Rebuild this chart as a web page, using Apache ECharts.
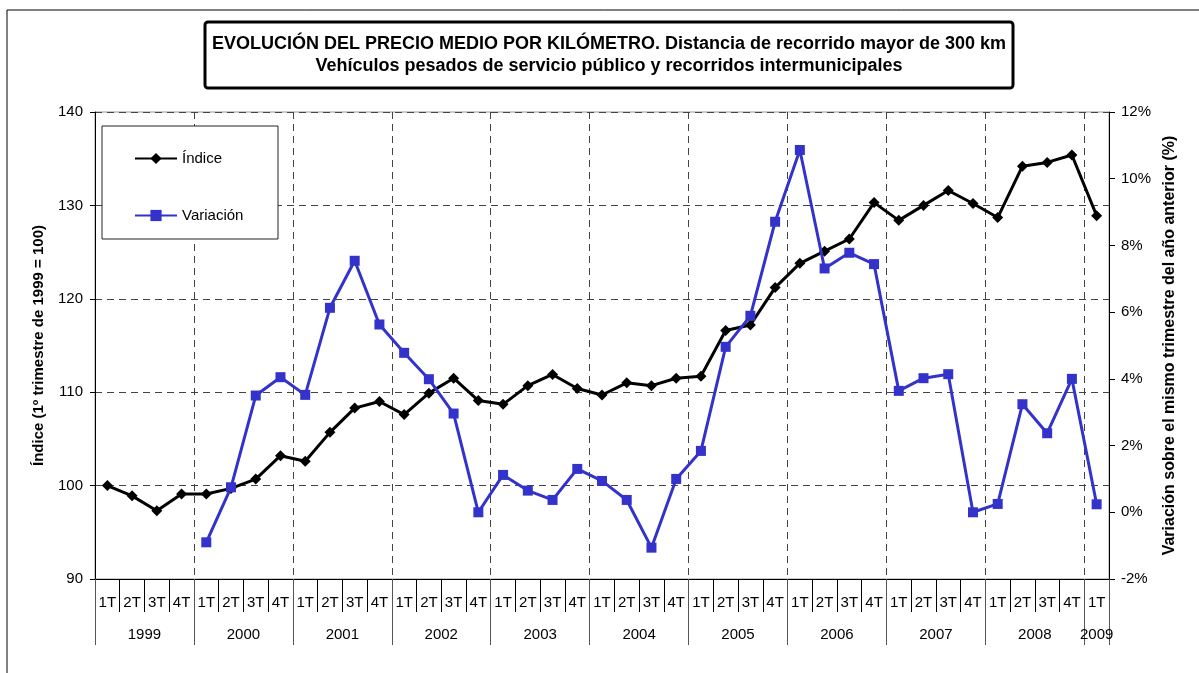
<!DOCTYPE html>
<html>
<head>
<meta charset="utf-8">
<script src="https://cdn.jsdelivr.net/npm/echarts@6/dist/echarts.min.js"></script>
<style>
html,body{margin:0;padding:0;background:#fff;}
#c{width:1199px;height:673px;}
</style>
</head>
<body>
<div id="c"></div>
<script>
// ---- data ----
var quarters = ['1T','2T','3T','4T','1T','2T','3T','4T','1T','2T','3T','4T','1T','2T','3T','4T',
  '1T','2T','3T','4T','1T','2T','3T','4T','1T','2T','3T','4T','1T','2T','3T','4T',
  '1T','2T','3T','4T','1T','2T','3T','4T','1T'];
var years = ['1999','2000','2001','2002','2003','2004','2005','2006','2007','2008','2009'];
var indice = [100.0, 98.9, 97.3, 99.1, 99.1, 99.7, 100.7, 103.2, 102.6, 105.7, 108.3, 109.0, 107.6, 109.9,
  111.5, 109.1, 108.7, 110.7, 111.9, 110.4, 109.7, 111.0, 110.7, 111.5, 111.7, 116.6, 117.2, 121.2,
  123.8, 125.1, 126.4, 130.3, 128.4, 130.0, 131.6, 130.2, 128.7, 134.2, 134.6, 135.4, 128.9];
var variacion = [null, null, null, null, -0.9, 0.75, 3.5, 4.05, 3.52, 6.13, 7.54, 5.63, 4.78, 3.99,
  2.96, 0.0, 1.12, 0.65, 0.37, 1.3, 0.94, 0.37, -1.06, 1.0, 1.84, 4.96, 5.89, 8.71,
  10.86, 7.31, 7.78, 7.44, 3.64, 4.02, 4.14, 0.0, 0.25, 3.24, 2.37, 4.0, 0.24];
var leftTicks = {min: 90, max: 140, interval: 10};
var rightTicks = {min: -2, max: 12, interval: 2};
var titleLines = ['EVOLUCIÓN DEL PRECIO MEDIO POR KILÓMETRO. Distancia de recorrido mayor de 300 km',
  'Vehículos pesados de servicio público y recorridos intermunicipales'];
var seriesNames = ['Índice', 'Variación'];
var leftName = 'Índice (1º trimestre de 1999 = 100)';
var rightName = 'Variación sobre el mismo trimestre del año anterior (%)';

// year-level tick positions (category boundaries) and label centres
var yearTickPos = [], yearLabelPos = [];
for (var i = 0; i < years.length; i++) {
  var start = i * 4, end = Math.min(start + 4, quarters.length);
  yearTickPos.push(start);
  yearLabelPos.push((start + end) / 2);
}
yearTickPos.push(quarters.length);

var FONT = '"Liberation Sans", Arial, sans-serif';
var chart = echarts.init(document.getElementById('c'), null, {renderer: 'canvas'});
var dash = [7, 5];

var option = {
  backgroundColor: '#fff',
  animation: false,
  textStyle: {fontFamily: FONT, color: '#000'},
  grid: {left: 95, right: 90, top: 112, bottom: 94, show: true, borderColor: '#999', borderWidth: 1, backgroundColor: 'transparent'},
  legend: {
    data: seriesNames,
    orient: 'vertical',
    left: 129, top: 146,
    itemWidth: 42, itemHeight: 14, itemGap: 42,
    textStyle: {fontSize: 15, fontFamily: FONT, color: '#000'},
    z: 12
  },
  graphic: [
    {type: 'rect', shape: {x: 7, y: 10, width: 1200, height: 700}, style: {fill: 'none', stroke: '#000', lineWidth: 1}, z: 0, silent: true},
    {type: 'rect', shape: {x: 205, y: 22, width: 808, height: 66, r: 3}, style: {fill: '#fff', stroke: '#000', lineWidth: 3}, z: 10},
    {type: 'text', x: 609, y: 44, style: {text: titleLines[0], fontSize: 18, fontWeight: 'bold', fontFamily: FONT, fill: '#000', textAlign: 'center', textVerticalAlign: 'middle'}, z: 11},
    {type: 'text', x: 609, y: 66, style: {text: titleLines[1], fontSize: 18, fontWeight: 'bold', fontFamily: FONT, fill: '#000', textAlign: 'center', textVerticalAlign: 'middle'}, z: 11},
    {type: 'rect', shape: {x: 102, y: 126, width: 176, height: 113}, style: {fill: '#fff', stroke: '#222', lineWidth: 1}, z: 10}
  ],
  xAxis: [
    {
      type: 'category', data: quarters, position: 'bottom', boundaryGap: true,
      axisLine: {show: true, onZero: false, lineStyle: {color: '#000', width: 1}},
      axisTick: {show: true, interval: 0, length: 33, inside: false, lineStyle: {color: '#000'}},
      axisLabel: {interval: 0, margin: 16, fontSize: 15, color: '#000', fontFamily: FONT},
      splitLine: {show: true, interval: 3, lineStyle: {color: '#444', type: dash, width: 1}}
    },
    {
      type: 'value', position: 'bottom', min: 0, max: quarters.length,
      axisLine: {show: false, onZero: false},
      axisTick: {show: true, customValues: yearTickPos, length: 66, lineStyle: {color: '#555'}},
      axisLabel: {show: true, customValues: yearLabelPos, margin: 48, fontSize: 15, color: '#000', fontFamily: FONT,
        formatter: function (v) { var k = Math.floor(v / 4); return years[k] || ''; }},
      splitLine: {show: false}
    }
  ],
  yAxis: [
    {
      type: 'value', position: 'left', min: leftTicks.min, max: leftTicks.max, interval: leftTicks.interval,
      name: leftName, nameLocation: 'middle', nameGap: 49, nameRotate: 90,
      nameTextStyle: {fontSize: 15, fontWeight: 'bold', color: '#000', fontFamily: FONT},
      axisLine: {show: true, onZero: false, lineStyle: {color: '#000'}},
      axisTick: {show: true, length: 5, lineStyle: {color: '#000'}},
      axisLabel: {fontSize: 15, margin: 12, color: '#000', fontFamily: FONT},
      splitLine: {show: true, lineStyle: {color: '#444', type: dash, width: 1}}
    },
    {
      type: 'value', position: 'right', min: rightTicks.min, max: rightTicks.max, interval: rightTicks.interval,
      name: rightName, nameLocation: 'middle', nameGap: 53, nameRotate: 90,
      nameTextStyle: {fontSize: 16, fontWeight: 'bold', color: '#000', fontFamily: FONT},
      axisLine: {show: true, onZero: false, lineStyle: {color: '#000'}},
      axisTick: {show: true, length: 6, lineStyle: {color: '#000'}},
      axisLabel: {fontSize: 15, margin: 12, color: '#000', fontFamily: FONT, formatter: '{value}%'},
      splitLine: {show: false}
    }
  ],
  series: [
    {
      name: seriesNames[0], type: 'line', xAxisIndex: 0, yAxisIndex: 0, data: indice,
      symbol: 'diamond', symbolSize: 11, showAllSymbol: true,
      lineStyle: {color: '#000', width: 3}, itemStyle: {color: '#000'}, z: 5
    },
    {
      name: seriesNames[1], type: 'line', xAxisIndex: 0, yAxisIndex: 1, data: variacion,
      symbol: 'rect', symbolSize: 10, showAllSymbol: true, connectNulls: false,
      lineStyle: {color: '#3333cc', width: 3}, itemStyle: {color: '#3333cc'}, z: 6
    }
  ]
};
chart.setOption(option);
</script>
</body>
</html>
